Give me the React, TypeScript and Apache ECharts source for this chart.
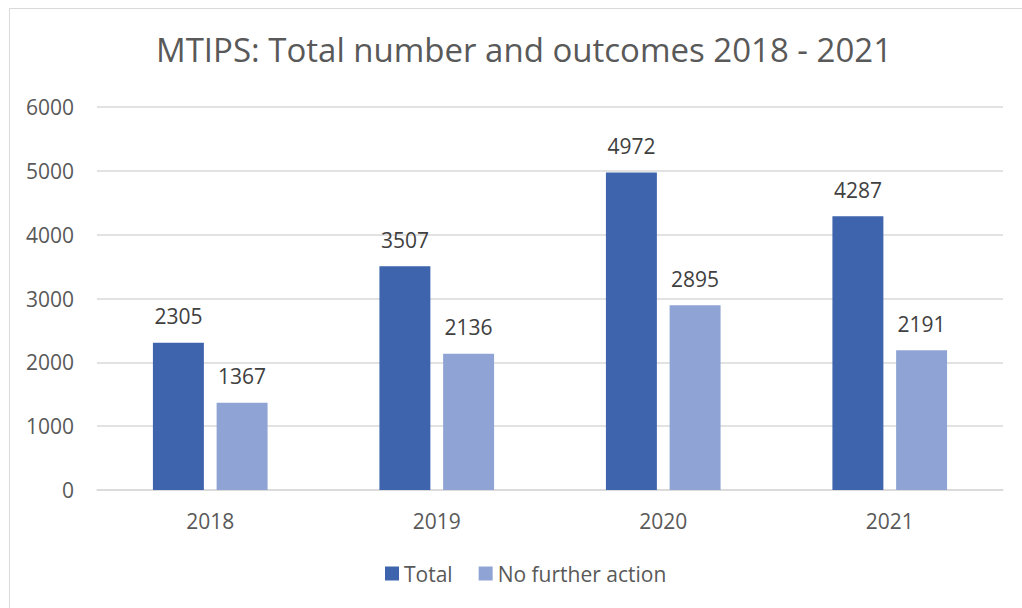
import React, { useEffect, useRef } from "react";
import * as echarts from "echarts";

const categories = ["2018", "2019", "2020", "2021"];
const totalValues = [2305, 3507, 4972, 4287];
const nfaValues = [1367, 2136, 2895, 2191];
const seriesNames = ["Total", "No further action"];
const titleText = "MTIPS: Total number and outcomes 2018 - 2021";

const FONT = "'Open Sans', 'Liberation Sans', sans-serif";

export default function App() {
  const ref = useRef<HTMLDivElement>(null);
  useEffect(() => {
    document.body.style.margin = "0";
    const chart = echarts.init(ref.current!, null, { renderer: "svg" });
    chart.setOption({
      animation: false,
      backgroundColor: "#ffffff",
      textStyle: { fontFamily: FONT },
      title: {
        text: titleText,
        left: 151,
        top: 28,
        textStyle: { fontFamily: FONT, fontSize: 33, fontWeight: "normal", color: "#595959" },
      },
      graphic: [
        {
          type: "rect",
          shape: { x: 9.5, y: 8.5, width: 1030, height: 620 },
          style: { fill: "none", stroke: "#D9D9D9", lineWidth: 1 },
          silent: true,
          z: -1,
        },
      ],
      grid: { left: 97, right: 19, top: 107, bottom: 118, containLabel: false },
      legend: {
        bottom: 19,
        left: 380,
        itemWidth: 14,
        itemHeight: 14,
        itemGap: 26,
        icon: "rect",
        textStyle: { fontFamily: FONT, fontSize: 21, color: "#595959" },
        data: seriesNames,
      },
      xAxis: {
        type: "category",
        data: categories,
        axisLine: { lineStyle: { color: "#D9D9D9", width: 1.5 } },
        axisTick: { show: false },
        axisLabel: { fontFamily: FONT, fontSize: 21, color: "#595959", margin: 20 },
      },
      yAxis: {
        type: "value",
        min: 0,
        max: 6000,
        interval: 1000,
        axisLine: { show: false },
        axisTick: { show: false },
        splitLine: { lineStyle: { color: "#D9D9D9", width: 1.5 } },
        axisLabel: {
          fontFamily: FONT,
          fontSize: 21,
          color: "#595959",
          margin: 23,
          formatter: (v: number) => String(v),
        },
      },
      series: [
        {
          name: seriesNames[0],
          type: "bar",
          data: totalValues,
          barWidth: "22.5%",
          barGap: "25%",
          itemStyle: { color: "#3D64AD" },
          label: { show: true, position: "top", distance: 16, fontFamily: FONT, fontSize: 21, color: "#404040" },
        },
        {
          name: seriesNames[1],
          type: "bar",
          data: nfaValues,
          barWidth: "22.5%",
          itemStyle: { color: "#8FA4D5" },
          label: { show: true, position: "top", distance: 16, fontFamily: FONT, fontSize: 21, color: "#404040" },
        },
      ],
    });
    return () => chart.dispose();
  }, []);
  return <div ref={ref} style={{ position: "absolute", left: 0, top: 0, width: 1022, height: 608 }} />;
}
